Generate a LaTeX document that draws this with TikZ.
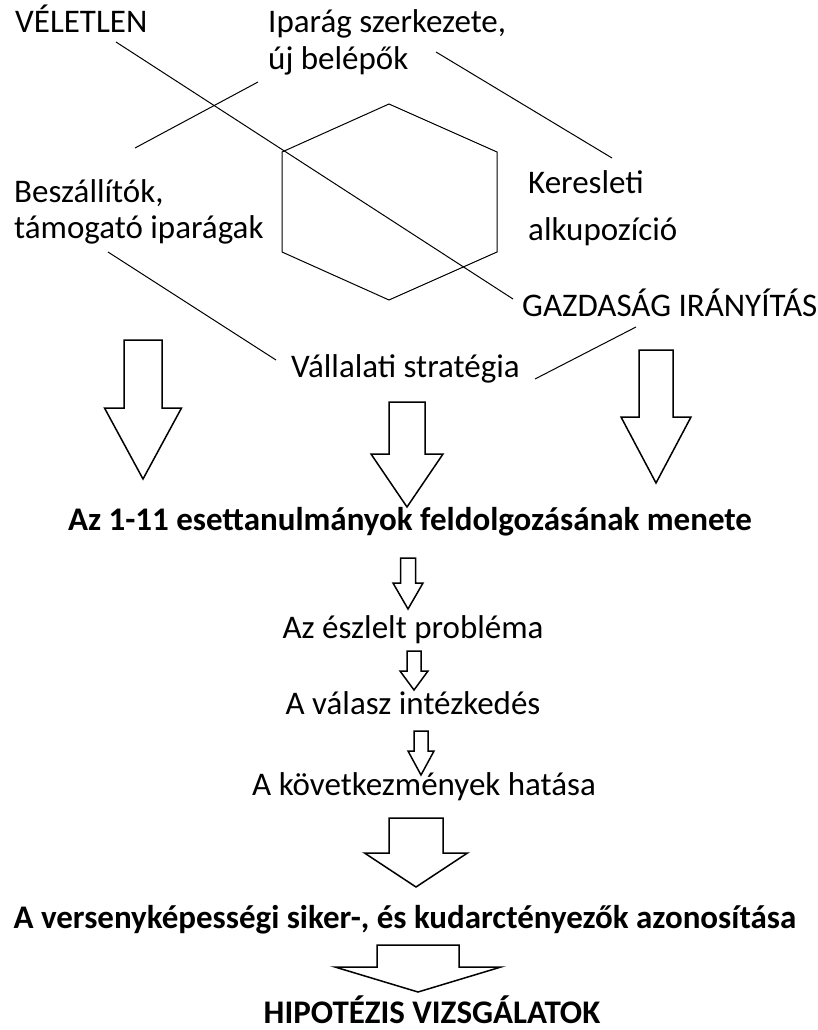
\documentclass[tikz,border=0pt]{standalone}
\usepackage{fontspec}
\setmainfont{Carlito}
\usetikzlibrary{positioning,calc}

\begin{document}
\begin{tikzpicture}[
  x=1pt, y=-1pt,
  font=\fontsize{33}{37}\selectfont,
  lbl/.style={inner sep=0pt, align=left, anchor=base west},
  heading/.style={inner sep=0pt, anchor=base, font=\fontsize{33}{37}\selectfont\bfseries},
  flowtext/.style={inner sep=0pt, anchor=base},
  thinline/.style={draw=black, line width=1pt},
  blockarrow/.style={draw=black, line width=1.5pt, fill=white, line join=miter}
]
\useasboundingbox (0,0) rectangle (818,1030);

% Factors around the hexagon (base of last line)
\node[lbl] (chance) at (15,33) {VÉLETLEN};
\node[lbl] (industry) at (268,70) {Iparág szerkezete,\\új belépők};
\node[lbl] (suppliers) at (14,238) {Beszállítók,\\[-1pt]támogató iparágak};
\node[lbl] (demand) at (528,240) {Keresleti\\[10pt]alkupozíció};
\node[lbl] (govern) at (522,316) {GAZDASÁG IRÁNYÍTÁS};
\node[lbl] (strategy) at (291,377) {Vállalati stratégia};

% Hexagon
\coordinate (hx-t) at (389,104);
\coordinate (hx-ur) at (497,152);
\coordinate (hx-lr) at (497,252);
\coordinate (hx-b) at (389,300);
\coordinate (hx-ll) at (282,252);
\coordinate (hx-ul) at (282,152);
\draw[thinline] (hx-t) -- (hx-ur) -- (hx-lr) -- (hx-b) -- (hx-ll) -- (hx-ul) -- cycle;

% Connecting lines
\coordinate (chance-end) at (116,42);
\coordinate (govern-end) at (513,299);
\coordinate (industry-a) at (258,82);
\coordinate (industry-b) at (135,148);
\coordinate (industry-c) at (436,52);
\coordinate (demand-end) at (612,158);
\coordinate (suppliers-end) at (108,252);
\coordinate (strategy-l) at (276,360);
\coordinate (strategy-r) at (535,379);
\coordinate (govern-l) at (636,327);
\draw[thinline] (chance-end) -- (govern-end);
\draw[thinline] (industry-a) -- (industry-b);
\draw[thinline] (industry-c) -- (demand-end);
\draw[thinline] (suppliers-end) -- (strategy-l);
\draw[thinline] (strategy-r) -- (govern-l);

% Block arrows: centre x / top / shoulder / tip / shaft half width / head half width
\foreach \cx/\ty/\sy/\py/\sw/\hw in {
  143/340/408/479/19/38.5,
  407/402/454/507/18/36,
  656/350/417/483/17/35,
  408/558/583/609/7.5/15,
  414/651/671/690/7/14,
  421/731/751/775/7/13,
  416/818/853/887/27/51.5,
  418/945/967/992/41/83} {
  \draw[blockarrow] (\cx-\sw,\ty) -- (\cx+\sw,\ty) -- (\cx+\sw,\sy) -- (\cx+\hw,\sy)
    -- (\cx,\py) -- (\cx-\hw,\sy) -- (\cx-\sw,\sy) -- cycle;
}

% Process steps
\node[heading] (cases) at (410,530) {Az 1-11 esettanulmányok feldolgozásának menete};
\node[flowtext] (problem) at (413,638) {Az észlelt probléma};
\node[flowtext] (response) at (413,714) {A válasz intézkedés};
\node[flowtext] (effects) at (424,795) {A következmények hatása};
\node[heading] (factors) at (405,928) {A versenyképességi siker-, és kudarctényezők azonosítása};
\node[heading] (hypo) at (432,1023) {HIPOTÉZIS VIZSGÁLATOK};

\end{tikzpicture}
\end{document}
